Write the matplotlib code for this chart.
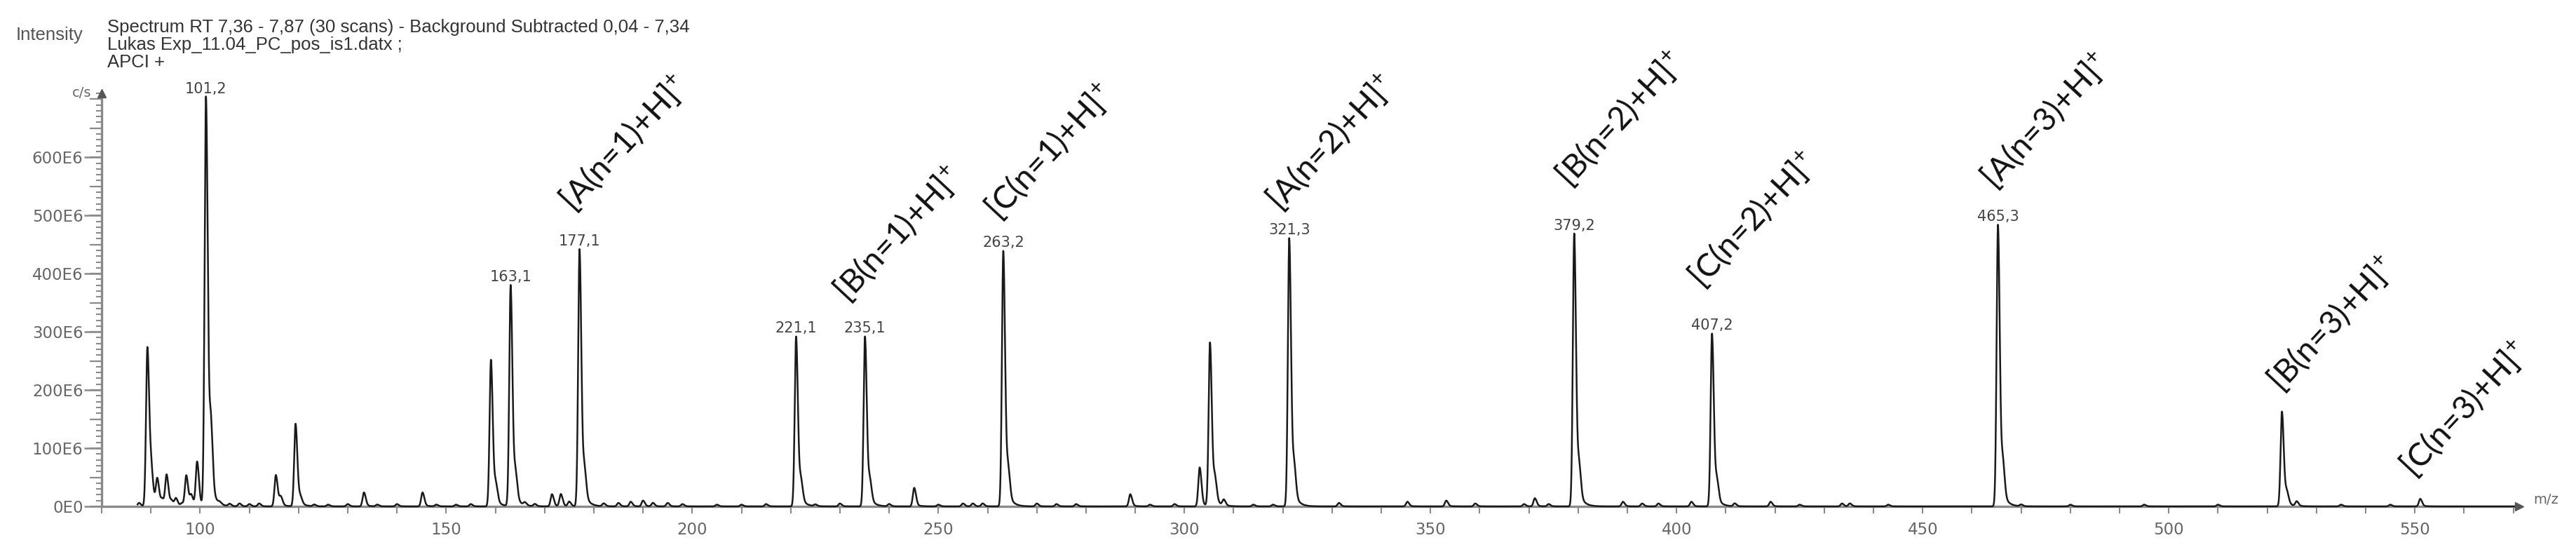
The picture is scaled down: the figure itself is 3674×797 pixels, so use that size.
import numpy as np
import matplotlib
matplotlib.use("Agg")
import matplotlib.pyplot as plt
from matplotlib.ticker import FixedLocator, FuncFormatter, MultipleLocator

# ---------------- data (intensities in units of 1E6 c/s) ----------------
major_mz = [89.3, 101.2, 119.4, 159.1, 163.1, 177.1, 221.1, 235.1, 263.2,
            305.2, 321.3, 379.2, 407.2, 465.3, 523.0]
major_int = [273, 703, 142, 252, 380, 442, 292, 292, 439,
             281, 461, 469, 297, 484, 163]

minor_mz = [87.6, 90.1, 91.3, 92.3, 93.2, 94.2, 95.1, 96.3, 97.2, 98.2, 99.4,
            102.2, 104.0, 106.0, 108.0, 110.0, 112.0, 115.4, 116.4, 120.4,
            123.2, 126.0, 130.0, 133.3, 136.0, 140.0, 145.2, 148.0, 152.0,
            155.0, 160.1, 164.1, 166.0, 168.0, 171.5, 173.3, 175.0, 178.1,
            182.0, 185.0, 187.5, 190.0, 192.0, 195.0, 198.0, 205.0, 210.0,
            215.0, 222.1, 225.0, 230.0, 236.1, 240.0, 245.1, 250.0, 255.0,
            257.0, 259.0, 264.2, 270.0, 274.0, 278.0, 289.0, 293.0, 298.0,
            303.1, 306.2, 308.0, 314.0, 318.0, 322.3, 331.4, 345.3, 353.2,
            359.1, 369.0, 371.2, 374.0, 380.2, 389.1, 393.0, 396.3, 403.0,
            408.2, 411.8, 419.1, 425.0, 433.6, 435.2, 443.0, 466.3, 470.0,
            480.0, 495.0, 510.0, 524.0, 526.0, 535.0, 545.0, 551.1]
minor_int = [6, 50, 44, 10, 53, 8, 13, 5, 53, 18, 76,
             120, 3, 4, 5, 4, 5, 54, 15, 12,
             3, 3, 4, 24, 3, 4, 24, 3, 3,
             4, 30, 45, 5, 4, 21, 21, 8, 50,
             5, 6, 8, 10, 6, 6, 4, 3, 3,
             4, 35, 3, 5, 35, 4, 32, 3, 5,
             5, 5, 50, 5, 4, 4, 21, 3, 4,
             67, 40, 10, 3, 3, 55, 6, 8, 10,
             5, 4, 14, 4, 55, 8, 5, 5, 8,
             35, 5, 8, 3, 5, 5, 3, 60, 3,
             3, 3, 3, 20, 8, 3, 3, 13]

peak_label_mz = [101.2, 163.1, 177.1, 221.1, 235.1, 263.2, 321.3, 379.2, 407.2, 465.3]
peak_label_int = [703, 380, 442, 292, 292, 439, 461, 469, 297, 484]
peak_label_txt = ["101,2", "163,1", "177,1", "221,1", "235,1", "263,2",
                  "321,3", "379,2", "407,2", "465,3"]

ion_txt = ["[A(n=1)+H]", "[B(n=1)+H]", "[C(n=1)+H]",
           "[A(n=2)+H]", "[B(n=2)+H]", "[C(n=2)+H]",
           "[A(n=3)+H]", "[B(n=3)+H]", "[C(n=3)+H]"]
ion_mz = [176.7, 232.4, 263.2, 320.3, 379.2, 406.1, 465.5, 523.7, 550.7]
ion_int = [498, 342, 483, 499, 540, 366, 537, 188, 41]

x_ticks = [100, 150, 200, 250, 300, 350, 400, 450, 500, 550]
y_ticks = [0, 100, 200, 300, 400, 500, 600]

header_lines = ["Spectrum RT 7,36 - 7,87 (30 scans) - Background Subtracted 0,04 - 7,34",
                "Lukas Exp_11.04_PC_pos_is1.datx ;",
                "APCI +"]

# ---------------- figure ----------------
plt.rcParams["mathtext.fontset"] = "custom"
plt.rcParams["mathtext.rm"] = "Lato"
plt.rcParams["mathtext.it"] = "Lato:italic"
plt.rcParams["mathtext.bf"] = "Lato:bold"

W, H = 3674, 797
fig = plt.figure(figsize=(W / 100, H / 100), dpi=100)
ax_l, ax_r, ax_b, ax_t = 145, 3593, 722, 133
ax = fig.add_axes([ax_l / W, (H - ax_b) / H, (ax_r - ax_l) / W, (ax_b - ax_t) / H])
ax.set_xlim(80, 571.2)
ax.set_ylim(0, 710)

# profile spectrum built from the peak list
x = np.arange(87.3, 571.0, 0.02)
y = np.zeros_like(x)
for c, h in zip(list(major_mz) + list(minor_mz), list(major_int) + list(minor_int)):
    d = x - c
    m = np.abs(d) < 10
    dd = d[m]
    shape = np.where(dd < 0,
                     np.exp(-0.5 * (dd / 0.28) ** 2),
                     0.88 * np.exp(-0.5 * (dd / 0.36) ** 2) + 0.12 * np.exp(-np.clip(dd, 0, None) / 0.9))
    y[m] += h * shape
ax.plot(x, y, color="#1a1a1a", lw=1.8, zorder=3, clip_on=False)

# spines / axes
axis_col = "#8a8a8a"
for s in ["top", "right"]:
    ax.spines[s].set_visible(False)
for s in ["left", "bottom"]:
    ax.spines[s].set_color(axis_col)
    ax.spines[s].set_linewidth(2.4)

ax.plot([80], [710], marker="^", ms=9, color="#555555", clip_on=False, zorder=4)
ax.plot([571.2], [0], marker=">", ms=9, color="#555555", clip_on=False, zorder=4)

ax.xaxis.set_major_locator(FixedLocator(x_ticks))
ax.xaxis.set_minor_locator(MultipleLocator(10))
ax.tick_params(axis="x", which="both", direction="out", length=7, width=1.5,
               color=axis_col, labelcolor="#666666", labelsize=16.5, pad=9)
ax.yaxis.set_major_locator(FixedLocator(y_ticks))
ax.yaxis.set_minor_locator(MultipleLocator(10))
ax.tick_params(axis="y", which="major", direction="out", length=18, width=1.8,
               color=axis_col, labelcolor="#666666", labelsize=16.5, pad=1)
ax.tick_params(axis="y", which="minor", direction="out", length=6, width=1.5,
               color=axis_col)
ax.yaxis.set_major_formatter(FuncFormatter(lambda v, p: "0E0" if v == 0 else f"{v:.0f}E6"))
for lab in ax.get_xticklabels() + ax.get_yticklabels():
    lab.set_family("DejaVu Sans")

sec = ax.secondary_yaxis("left")
sec.spines["left"].set_visible(False)
sec.yaxis.set_major_locator(MultipleLocator(50))
sec.yaxis.set_minor_locator(FixedLocator([]))
sec.tick_params(axis="y", which="major", direction="out", length=12, width=1.6,
                color=axis_col, labelleft=False)

# peak value labels
for mz, h, t in zip(peak_label_mz, peak_label_int, peak_label_txt):
    ax.annotate(t, (mz, h), xytext=(0, 1), textcoords="offset points",
                ha="center", va="bottom", fontsize=15, color="#444444",
                family="DejaVu Sans", zorder=5)

# ion annotations
for t, mz, h in zip(ion_txt, ion_mz, ion_int):
    ax.text(mz, h, t + r"$^{+}$", rotation=47, rotation_mode="anchor",
            ha="left", va="bottom", fontsize=33, family="Lato",
            color="#111111", clip_on=False, zorder=6)

# header texts
hdr_x = 153 / W
for i, line in enumerate(header_lines):
    fig.text(hdr_x, 1 - (46 + 25 * i) / H, line, fontsize=18.5,
             family="Liberation Sans", color="#333333", va="baseline", ha="left")
fig.text(23 / W, 1 - 57 / H, "Intensity", fontsize=18.5, family="Liberation Sans",
         color="#555555", va="baseline", ha="left")
fig.text(130 / W, 1 - 133 / H, "c/s", fontsize=14, family="DejaVu Sans",
         color="#666666", va="center", ha="right")
fig.text(3613 / W, 1 - 713 / H, "m/z", fontsize=14, family="DejaVu Sans",
         color="#666666", va="center", ha="left")

fig.savefig("out.png", dpi=100, facecolor="white")
